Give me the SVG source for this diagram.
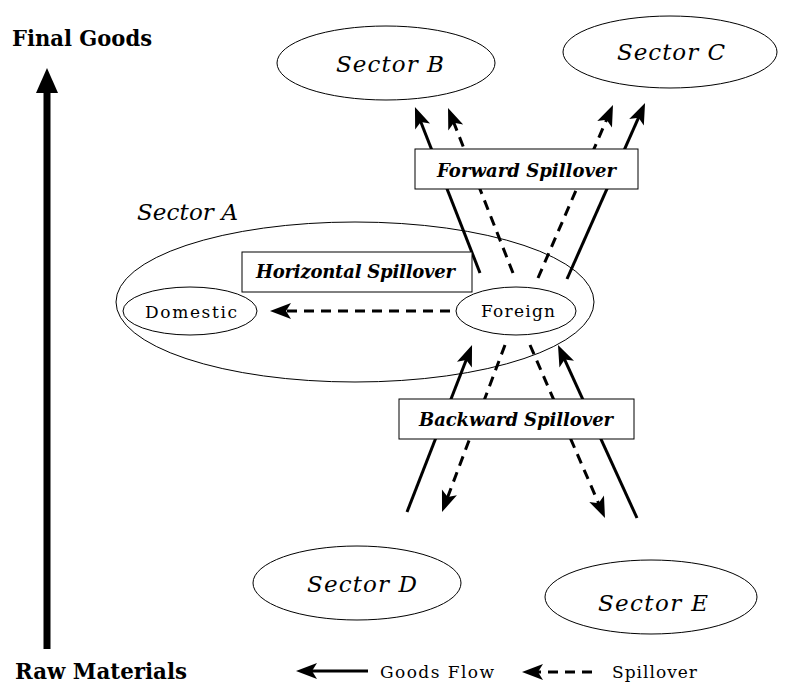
<svg xmlns="http://www.w3.org/2000/svg" width="810" height="697" viewBox="0 0 810 697">
<style>
.ell{fill:none;stroke:#000;stroke-width:1}
.box{fill:#fff;stroke:#000;stroke-width:1}
.sec{font-style:italic;font-size:23px}
.lbl{font-size:17px}
.bl{font-style:italic;font-weight:bold;font-size:18px}
.ax{font-weight:bold;font-size:22px}
.solid{stroke:#000;stroke-width:3;fill:none;marker-end:url(#ah)}
.dash{stroke:#000;stroke-width:3;fill:none;stroke-dasharray:10 7;marker-end:url(#ah)}
</style>
<defs>
<marker id="ah" markerUnits="userSpaceOnUse" markerWidth="24" markerHeight="20" viewBox="0 0 24 20" refX="15" refY="10" orient="auto">
<path d="M22,10 L1,2 L6,10 L1,18 Z" fill="#000"/>
</marker>
</defs>
<rect width="810" height="697" fill="#fff"/>
<g font-family="DejaVu Serif, Liberation Serif, serif">
<g id="axis">
<rect x="43.5" y="90" width="7" height="559" fill="#000"/>
<polygon points="47,68 36,93 58,93" fill="#000"/>
<text class="ax" x="12" y="46" textLength="140" lengthAdjust="spacingAndGlyphs">Final Goods</text>
<text class="ax" x="15" y="679" textLength="172" lengthAdjust="spacingAndGlyphs">Raw Materials</text>
</g>

<g id="sectorA">
<ellipse class="ell" cx="355" cy="302" rx="239" ry="80"/>
<text class="sec" x="137" y="220" textLength="101" lengthAdjust="spacing">Sector A</text>
</g>

<g id="connectors">
<line class="solid" x1="480" y1="273" x2="417.5" y2="113.5"/>
<line class="dash" x1="513" y1="273" x2="450.6" y2="114.5"/>
<line class="dash" x1="538" y1="278" x2="610.2" y2="111.4"/>
<line class="solid" x1="567" y1="279" x2="642.2" y2="109.4"/>
<line class="solid" x1="407" y1="512" x2="469.5" y2="351.5"/>
<line class="dash" x1="505" y1="345" x2="444.5" y2="505.5"/>
<line class="dash" x1="530" y1="345" x2="602.2" y2="511.6"/>
<line class="solid" x1="637" y1="518" x2="560.9" y2="351.4"/>
<line class="dash" x1="450" y1="311" x2="277" y2="311"/>
</g>

<g id="sectorB">
<ellipse class="ell" cx="386" cy="63" rx="109" ry="37"/>
<text class="sec" x="336" y="72" textLength="108" lengthAdjust="spacing">Sector B</text>
</g>
<g id="sectorC">
<ellipse class="ell" cx="670" cy="52" rx="107" ry="36"/>
<text class="sec" x="617" y="60" textLength="108" lengthAdjust="spacing">Sector C</text>
</g>
<g id="sectorD">
<ellipse class="ell" cx="357" cy="583" rx="104" ry="37"/>
<text class="sec" x="307" y="592" textLength="110" lengthAdjust="spacing">Sector D</text>
</g>
<g id="sectorE">
<ellipse class="ell" cx="651" cy="597" rx="106" ry="37"/>
<text class="sec" x="598" y="611" textLength="110" lengthAdjust="spacing">Sector E</text>
</g>

<g id="domestic">
<ellipse class="ell" cx="190" cy="311" rx="67" ry="24"/>
<text class="lbl" x="145" y="318" textLength="92" lengthAdjust="spacing">Domestic</text>
</g>
<g id="foreign">
<ellipse class="ell" cx="516" cy="311" rx="60" ry="24"/>
<text class="lbl" x="481" y="317" textLength="74" lengthAdjust="spacing">Foreign</text>
</g>

<g id="forward">
<rect class="box" x="415" y="149" width="223" height="40"/>
<text class="bl" x="437" y="177" textLength="179" lengthAdjust="spacing">Forward Spillover</text>
</g>
<g id="horizontal">
<rect class="box" x="242" y="252" width="230" height="40"/>
<text class="bl" x="256" y="278" textLength="199" lengthAdjust="spacing">Horizontal Spillover</text>
</g>
<g id="backward">
<rect class="box" x="399" y="399" width="235" height="40"/>
<text class="bl" x="419" y="426" textLength="194" lengthAdjust="spacing">Backward Spillover</text>
</g>

<g id="legend">
<line class="solid" x1="368" y1="671" x2="303" y2="671"/>
<text class="lbl" x="380" y="678" textLength="114" lengthAdjust="spacing">Goods Flow</text>
<line class="dash" x1="592" y1="672" x2="529" y2="672"/>
<text class="lbl" x="612" y="678" textLength="85" lengthAdjust="spacing">Spillover</text>
</g>
</g>
</svg>
